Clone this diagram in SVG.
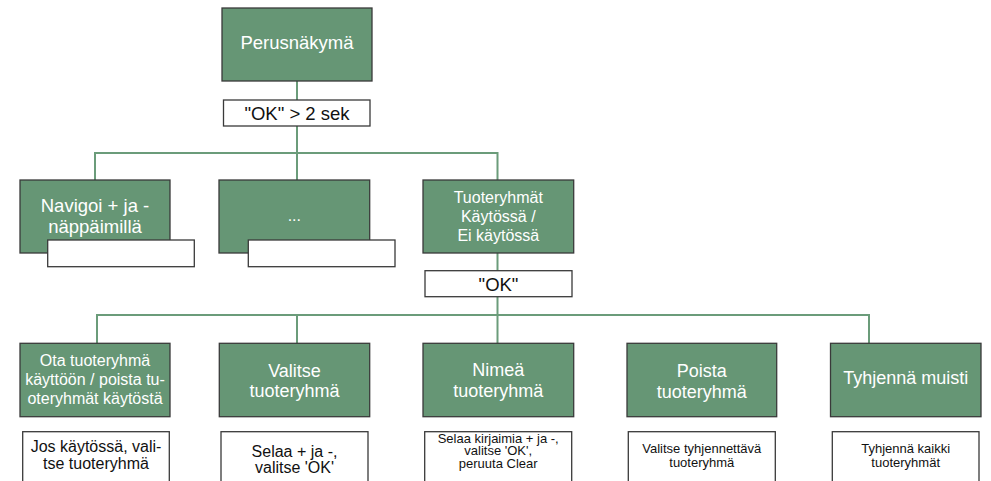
<svg xmlns="http://www.w3.org/2000/svg" width="991" height="481" viewBox="0 0 991 481">
<style>
text{font-family:"Liberation Sans",Arial,Helvetica,sans-serif;text-anchor:middle}
.g{fill:#669675;stroke:#3a3a3a;stroke-width:1.3}
.w{fill:#ffffff;stroke:#3a3a3a;stroke-width:1.3}
.tw{fill:#ffffff}
.tb{fill:#111111}
.f18{font-size:18px}
.f16{font-size:16px}
.f13{font-size:13px}
.c{fill:none;stroke:#6b9c7a;stroke-width:2}
</style>
<rect width="991" height="481" fill="#ffffff"/>
<g id="connectors">
<path class="c" d="M297,81 V100"/>
<path class="c" d="M297,126 V180"/>
<path class="c" d="M95,180 V153 H497.5 V180"/>
<path class="c" d="M497.5,253 V271"/>
<path class="c" d="M497.5,297 V343"/>
<path class="c" d="M97,343 V315 H869 V343"/>
<path class="c" d="M297,315 V343"/>
</g>
<g id="perusnakyma">
<rect class="g" x="222" y="8" width="150" height="73"/>
<text class="tw f18" x="297" y="48.5" style="font-size:18.5px">Perusnäkymä</text>
</g>
<g id="label-ok-2sek">
<rect class="w" x="223.5" y="100" width="146.5" height="26"/>
<text class="tb f18" x="297" y="120" style="font-size:18.5px">"OK" &gt; 2 sek</text>
</g>
<g id="navigoi">
<rect class="g" x="20" y="180" width="150" height="73"/>
<text class="tw f18" x="95" y="211.5" style="font-size:18.5px">Navigoi + ja -</text>
<text class="tw f18" x="95" y="233" style="font-size:18.5px">näppäimillä</text>
<rect class="w" x="47.7" y="240" width="146.6" height="26.7"/>
</g>
<g id="dots">
<rect class="g" x="219" y="180" width="150.7" height="73"/>
<text class="tw f16" x="294.3" y="220.5">...</text>
<rect class="w" x="248.3" y="240" width="146.7" height="26.7"/>
</g>
<g id="tuoteryhmat">
<rect class="g" x="423" y="180" width="150.7" height="73"/>
<text class="tw f16" x="498.3" y="203">Tuoteryhmät</text>
<text class="tw f16" x="498.3" y="222">Käytössä /</text>
<text class="tw f16" x="498.3" y="241">Ei käytössä</text>
</g>
<g id="label-ok">
<rect class="w" x="425" y="270.7" width="147" height="26"/>
<text class="tb f18" x="498.5" y="290.5" style="font-size:18.5px">"OK"</text>
</g>
<g id="ota-tuoteryhma">
<rect class="g" x="20" y="343.3" width="150" height="73.4"/>
<text class="tw f16" x="95" y="366">Ota tuoteryhmä</text>
<text class="tw f16" x="95" y="385">käyttöön / poista tu-</text>
<text class="tw f16" x="95" y="404">oteryhmät käytöstä</text>
<rect class="w" x="22.7" y="431.7" width="146.6" height="60"/>
<text class="tb f16" x="96" y="451.7">Jos käytössä, vali-</text>
<text class="tb f16" x="96" y="468.5">tse tuoteryhmä</text>
</g>
<g id="valitse-tuoteryhma">
<rect class="g" x="219.3" y="343.3" width="150.4" height="73.4"/>
<text class="tw f18" x="294.5" y="376.7">Valitse</text>
<text class="tw f18" x="294.5" y="397">tuoteryhmä</text>
<rect class="w" x="221" y="431.7" width="147" height="60"/>
<text class="tb f16" x="294.5" y="456.7">Selaa + ja -,</text>
<text class="tb f16" x="294.5" y="472.5">valitse 'OK'</text>
</g>
<g id="nimea-tuoteryhma">
<rect class="g" x="423" y="343.3" width="150.7" height="73.4"/>
<text class="tw f18" x="498.3" y="375.5">Nimeä</text>
<text class="tw f18" x="498.3" y="397">tuoteryhmä</text>
<rect class="w" x="424.7" y="431.7" width="147" height="60"/>
<text class="tb f13" x="498.2" y="442.5">Selaa kirjaimia + ja -,</text>
<text class="tb f13" x="498.2" y="455">valitse 'OK',</text>
<text class="tb f13" x="498.2" y="467.5">peruuta Clear</text>
</g>
<g id="poista-tuoteryhma">
<rect class="g" x="627" y="343.3" width="149.7" height="73.4"/>
<text class="tw f18" x="701.8" y="376.7">Poista</text>
<text class="tw f18" x="701.8" y="398">tuoteryhmä</text>
<rect class="w" x="628.3" y="431.7" width="147" height="60"/>
<text class="tb f13" x="701.8" y="453.3">Valitse tyhjennettävä</text>
<text class="tb f13" x="701.8" y="466.7">tuoteryhmä</text>
</g>
<g id="tyhjenna-muisti">
<rect class="g" x="830.5" y="343.3" width="150.5" height="73.4"/>
<text class="tw f18" x="905.7" y="383.5">Tyhjennä muisti</text>
<rect class="w" x="832.3" y="431.7" width="146.7" height="60"/>
<text class="tb f13" x="905.7" y="453.3">Tyhjennä kaikki</text>
<text class="tb f13" x="905.7" y="466.7">tuoteryhmät</text>
</g>
</svg>
